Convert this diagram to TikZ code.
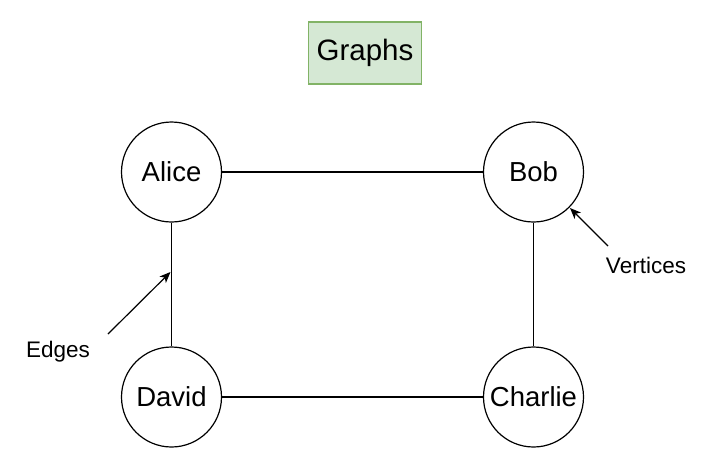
\documentclass[tikz,border=0pt]{standalone}
\usepackage{fontspec}
\setmainfont{Liberation Sans}
\usetikzlibrary{arrows.meta}
\definecolor{titlefill}{HTML}{D5E8D4}
\definecolor{titledraw}{HTML}{82B366}
\tikzset{
  vertex/.style={circle, draw, line width=1.2pt, minimum size=100pt, inner sep=0pt, font=\fontsize{27.5}{32}\selectfont},
  note/.style={font=\fontsize{22.5}{26}\selectfont},
  link/.style={line width=1.2pt},
  >={Stealth[length=11pt,width=9pt,inset=3pt]}
}
\begin{document}
\begin{tikzpicture}[x=1pt, y=-1pt]
\useasboundingbox (0,0) rectangle (721,474);

% Title
\node[draw=titledraw, fill=titlefill, line width=1.3pt, minimum width=113pt, minimum height=62pt, font=\fontsize{29.5}{34}\selectfont] (title) at (365,53) {Graphs};

% Vertices
\node[vertex] (alice) at (171.5,172) {Alice};
\node[vertex] (bob) at (533.5,172) {Bob};
\node[vertex] (david) at (171.5,397) {David};
\node[vertex] (charlie) at (533.5,397) {Charlie};

% Edges
\draw[link] (alice) -- (bob);
\draw[link] (alice) -- (david);
\draw[link] (bob) -- (charlie);
\draw[link] (david) -- (charlie);

% Labels with pointers
\node[note] (edges) at (58,352) {Edges};
\node[note] (vertices) at (646,265) {Vertices};
\coordinate (edgetail) at (108,334);
\coordinate (edgetip) at (170.5,272);
\coordinate (verttail) at (608,246);
\coordinate (verttip) at (570,208);
\draw[link, ->] (edgetail) -- (edgetip);
\draw[link, ->] (verttail) -- (verttip);

\end{tikzpicture}
\end{document}
